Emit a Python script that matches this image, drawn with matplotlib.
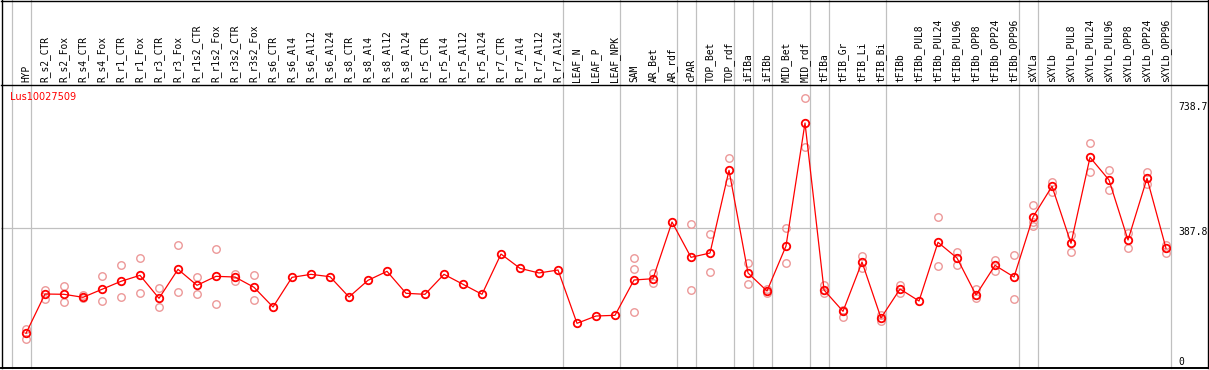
import matplotlib
matplotlib.use("Agg")
import matplotlib.pyplot as plt
import matplotlib.transforms as mtransforms
from matplotlib.lines import Line2D

# sample names (x categories)
samples = ["HYP",
           "R_s2_CTR", "R_s2_Fox", "R_s4_CTR", "R_s4_Fox", "R_r1_CTR", "R_r1_Fox",
           "R_r3_CTR", "R_r3_Fox", "R_r1s2_CTR", "R_r1s2_Fox", "R_r3s2_CTR", "R_r3s2_Fox",
           "R_s6_CTR", "R_s6_Al4", "R_s6_Al12", "R_s6_Al24",
           "R_s8_CTR", "R_s8_Al4", "R_s8_Al12", "R_s8_Al24",
           "R_r5_CTR", "R_r5_Al4", "R_r5_Al12", "R_r5_Al24",
           "R_r7_CTR", "R_r7_Al4", "R_r7_Al12", "R_r7_Al24",
           "LEAF_N", "LEAF_P", "LEAF_NPK",
           "SAM", "AR_Bet", "AR_rdf", "cPAR", "TOP_Bet", "TOP_rdf", "iFIBa", "iFIBb",
           "MID_Bet", "MID_rdf", "tFIBa", "tFIB_Gr", "tFIB_Li", "tFIB_Bi",
           "tFIBb", "tFIBb_PUL8", "tFIBb_PUL24", "tFIBb_PUL96",
           "tFIBb_OPP8", "tFIBb_OPP24", "tFIBb_OPP96",
           "sXYLa", "sXYLb", "sXYLb_PUL8", "sXYLb_PUL24", "sXYLb_PUL96",
           "sXYLb_OPP8", "sXYLb_OPP24", "sXYLb_OPP96"]

# mean expression per sample
means = [104.4,
         210.5, 209.7, 201.6, 223.2, 244.8, 260.9,
         198.9, 277.1, 234.0, 258.2, 256.4, 228.6,
         175.4, 255.5, 263.6, 257.2,
         202.4, 247.5, 271.7, 212.4,
         209.7, 263.6, 236.7, 209.7,
         318.4, 279.8, 267.2, 275.3,
         131.4, 151.1, 153.0,
         248.3, 251.8, 404.8, 309.5, 321.1, 544.3, 267.2, 218.6,
         340.0, 672.0, 221.3, 163.8, 296.8, 145.7,
         224.0, 191.6, 350.0, 307.6,
         207.8, 287.9, 256.4,
         418.3, 501.2, 347.3, 579.4, 518.2,
         356.2, 522.8, 333.8]

# individual replicates (visible ones)
replicates = [[116.0, 89.8],
              [221.3, 197.8], [232.9, 188.1], [207.8, 198.9], [258.2, 190.8],
              [287.9, 201.6], [306.8, 212.4], [225.9, 174.6], [341.9, 215.1],
              [255.5, 209.7], [332.7, 182.7], [265.3, 246.4], [260.9, 193.5],
              [], [], [], [],
              [], [], [], [],
              [], [], [], [],
              [], [], [], [],
              [], [], [],
              [307.6, 277.1, 161.1], [268.0, 241.0], [], [398.6, 221.3],
              [372.4, 269.9], [576.7, 512.0], [295.0, 237.5], [212.4, 223.2],
              [388.6, 294.1], [738.7, 606.4], [235.6, 212.4], [149.2, 167.3],
              [313.8, 279.8], [138.4, 153.8],
              [234.8, 212.4], [], [418.3, 286.0], [323.8, 287.9],
              [223.2, 198.9], [303.1, 272.6], [314.9, 196.2],
              [449.9, 394.8, 405.6], [513.6, 486.6], [369.7, 324.6],
              [618.0, 538.9], [545.2, 490.4],
              [376.0, 334.6], [539.8, 508.2], [343.5, 321.9]]

# group separators: placed after these sample indices
separators = [-1, 0, 28, 31, 34, 35, 37, 38, 39, 41, 42, 45, 52, 53, 60]

gene = "Lus10027509"
ref_ticks = [738.7, 387.8, 0]

W, H = 1209, 370
fig = plt.figure(figsize=(W / 100, H / 100), dpi=100)

ax = fig.add_axes([1 / W, 2 / H, 1169 / W, 283 / H])
ax.set_xlim(-1.316, 60.21)
ax.set_ylim(10.8, 774.6)
ax.axis("off")

gray = "#c0c0c0"
red = "#ff0000"
pink = "#ec9898"
top_frac = 368 / 283

for s in separators:
    ax.axvline(s + 0.24, ymin=0, ymax=top_frac, color=gray, lw=0.9,
               clip_on=False, zorder=1)
ax.axhline(ref_ticks[1], color=gray, lw=0.9, zorder=1)

x = list(range(len(samples)))
for i, reps in enumerate(replicates):
    if reps:
        ax.plot([i] * len(reps), reps, ls="none", marker="o", ms=5.4,
                mfc="none", mec=pink, mew=1.0, zorder=2)
ax.plot(x, means, color=red, lw=0.9, zorder=3)
ax.plot(x, means, ls="none", marker="o", ms=5.4, mfc="none", mec=red,
        mew=1.3, zorder=4)

trans = mtransforms.blended_transform_factory(ax.transData, ax.transAxes)
for i, name in enumerate(samples):
    ax.text(i, (368 - 82) / 283, name, rotation=90, ha="center", va="bottom",
            fontsize=6.9, family="DejaVu Sans Mono", transform=trans,
            clip_on=False)

# frame lines
def hline(y, x0=1, x1=1208, lw=1.0):
    fig.add_artist(Line2D([x0 / W, x1 / W], [1 - y / H, 1 - y / H],
                          color="black", lw=lw, transform=fig.transFigure))

def vline(xp, y0=0, y1=368, lw=1.0):
    fig.add_artist(Line2D([xp / W, xp / W], [1 - y0 / H, 1 - y1 / H],
                          color="black", lw=lw, transform=fig.transFigure))

hline(0.5)
hline(85)
hline(368, lw=1.4)
vline(1.5)
vline(1207.5)

fig.text(10 / W, 1 - 97 / H, gene, color=red, fontsize=7, va="center",
         ha="left")
for val, yp in zip(ref_ticks, [107, 232, 362]):
    fig.text(1178 / W, 1 - yp / H, f"{val:g}", fontsize=7,
             family="DejaVu Sans Mono", va="center", ha="left")

fig.savefig("out.png", dpi=100, facecolor="white")
